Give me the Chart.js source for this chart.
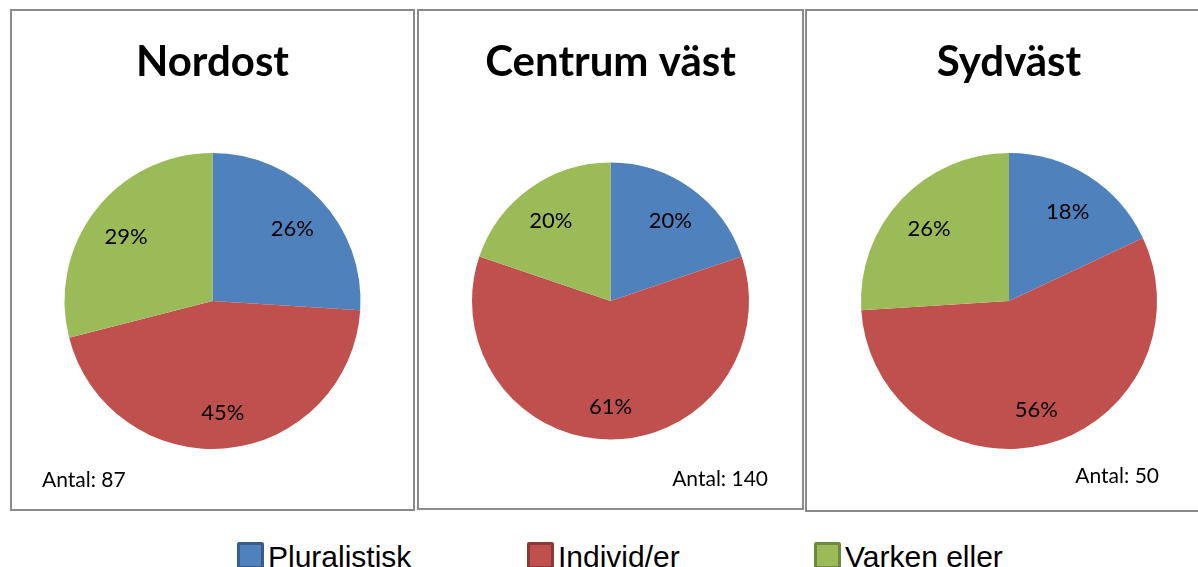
<!DOCTYPE html>
<html>
<head>
<meta charset="utf-8">
<script src="https://cdn.jsdelivr.net/npm/chart.js@4/dist/chart.umd.min.js"></script>
<style>
  body { margin: 0; background: #fff; overflow: hidden; width: 1198px; height: 567px; position: relative; }
  .panel { position: absolute; box-sizing: border-box; border: 2px solid #8a8a8a; background: #fff; }
  .panel canvas { display: block; }
  .legend-item { position: absolute; top: 544px; font-family: "Liberation Sans", Arial, sans-serif; font-size: 30px; line-height: 26px; white-space: nowrap; }
  .legend-item span.box { display: inline-block; position: relative; top: -2px; box-sizing: border-box; width: 27px; height: 27px; border: 3px solid; border-radius: 2px; vertical-align: top; margin-right: 4px; }
</style>
</head>
<body>
<div class="panel" style="left:10px; top:9px; width:405px; height:502px;"><canvas id="c1" width="401" height="498"></canvas></div>
<div class="panel" style="left:417px; top:9px; width:387px; height:501px;"><canvas id="c2" width="383" height="497"></canvas></div>
<div class="panel" style="left:805px; top:9px; width:408px; height:503px;"><canvas id="c3" width="404" height="499"></canvas></div>
<div id="legend"></div>

<script>
// data
const categories = ['Pluralistisk', 'Individ/er', 'Varken eller'];
const regions = ['Nordost', 'Centrum väst', 'Sydväst'];
const nordost = [26, 45, 29];
const centrumVast = [20, 61, 20];
const sydvast = [18, 56, 26];
const antal = [87, 140, 50];

const colors = ['#4F81BD', '#C0504D', '#9BBB59'];
const borders = ['#385D8A', '#8C3836', '#71893F'];

// percent labels inside the slices
const sliceLabels = {
  id: 'sliceLabels',
  afterDatasetsDraw(chart) {
    const ctx = chart.ctx;
    const meta = chart.getDatasetMeta(0);
    const values = chart.data.datasets[0].data;
    ctx.save();
    ctx.font = '22px Lato';
    ctx.fillStyle = '#000';
    ctx.textAlign = 'center';
    ctx.textBaseline = 'middle';
    meta.data.forEach((arc, i) => {
      const p = arc.getProps(['x', 'y', 'startAngle', 'endAngle', 'outerRadius']);
      const a = (p.startAngle + p.endAngle) / 2;
      const d = p.outerRadius * 0.74;
      ctx.fillText(values[i] + '%', p.x + Math.cos(a) * d, p.y + Math.sin(a) * d + 3);
    });
    ctx.restore();
  }
};

function makePie(id, title, values, count, align, side, radius, subTop, subBottom) {
  new Chart(document.getElementById(id), {
    type: 'pie',
    data: {
      labels: categories,
      datasets: [{
        data: values,
        backgroundColor: colors,
        borderWidth: 0,
        hoverOffset: 0,
        radius: radius
      }]
    },
    options: {
      responsive: false,
      animation: false,
      layout: { padding: { left: side, right: side } },
      plugins: {
        legend: { display: false },
        tooltip: { enabled: false },
        title: {
          display: true,
          text: title,
          color: '#000',
          font: { family: 'Lato', size: 42, weight: 'bold', lineHeight: 1.2 },
          padding: { top: 26, bottom: 63.6 }
        },
        subtitle: {
          display: true,
          position: 'bottom',
          align: align,
          text: 'Antal: ' + count,
          color: '#000',
          font: { family: 'Lato', size: 21, lineHeight: 1.2 },
          padding: { top: subTop, bottom: subBottom }
        }
      }
    },
    plugins: [sliceLabels]
  });
}

makePie('c1', regions[0], nordost, antal[0], 'start', 30, 148, 16.4, 16.4);
makePie('c2', regions[1], centrumVast, antal[1], 'end', 34, 138.5, 15.4, 16.4);
makePie('c3', regions[2], sydvast, antal[2], 'end', 52, 148, 12.8, 21);

// legend below the panels
const legendX = [237, 527, 814];
const legend = document.getElementById('legend');
categories.forEach((name, i) => {
  const item = document.createElement('div');
  item.className = 'legend-item';
  item.style.left = legendX[i] + 'px';
  item.innerHTML = '<span class="box" style="background:' + colors[i] + ';border-color:' + borders[i] + '"></span>' + name;
  legend.appendChild(item);
});
</script>
</body>
</html>
